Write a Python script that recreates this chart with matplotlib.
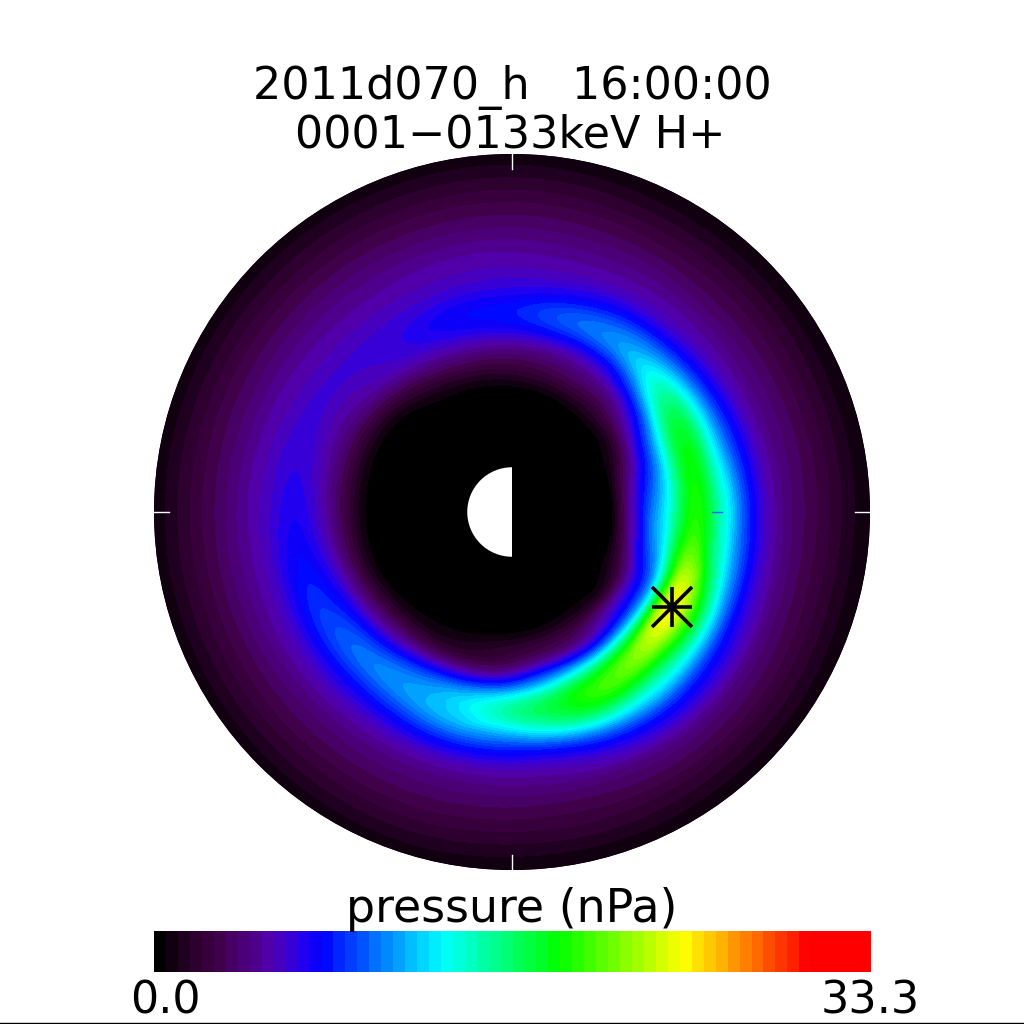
import numpy as np
import matplotlib
matplotlib.use("Agg")
import matplotlib.pyplot as plt
import matplotlib.tri as mtri
from matplotlib.colors import BoundaryNorm, LinearSegmentedColormap, ListedColormap
from matplotlib.patches import Circle, Wedge

# radial distance in Re
radii = [2.25, 2.7, 3.15, 3.6, 4.0, 4.5, 4.9, 5.35, 5.8, 6.25, 6.7, 7.15, 7.6, 8.0, 8.5]

# pressure (nPa) along rays, degrees counter clockwise from the right
p_000 = [0.5, 5.5, 10.5, 15.0, 19.0, 16.5, 12.5, 8.0, 5.3, 3.9, 3.0, 2.1, 1.2, 0.6, 0.3]
p_015 = [0.4, 4.5, 8.8, 13.8, 18.3, 16.0, 11.5, 7.5, 5.1, 3.9, 3.0, 2.1, 1.2, 0.6, 0.3]
p_030 = [0.2, 2.3, 6.5, 11.5, 16.5, 15.5, 11.0, 7.0, 5.0, 3.9, 3.0, 2.1, 1.2, 0.6, 0.3]
p_045 = [0.1, 1.2, 3.9, 7.2, 11.5, 13.0, 9.8, 6.5, 5.0, 3.9, 3.0, 2.1, 1.2, 0.6, 0.3]
p_060 = [0.0, 0.8, 3.0, 5.2, 8.0, 10.8, 9.0, 6.3, 5.0, 4.0, 3.0, 2.1, 1.2, 0.6, 0.3]
p_075 = [0.0, 0.4, 2.5, 4.5, 7.2, 9.6, 7.8, 5.9, 4.9, 4.0, 3.1, 2.2, 1.3, 0.6, 0.3]
p_090 = [0.0, 0.2, 2.0, 4.2, 6.6, 8.2, 7.0, 5.8, 5.0, 4.1, 3.2, 2.3, 1.4, 0.7, 0.3]
p_105 = [0.0, 0.0, 1.6, 4.0, 6.2, 7.7, 6.8, 5.7, 5.0, 4.1, 3.2, 2.3, 1.4, 0.7, 0.3]
p_120 = [0.0, 0.0, 1.2, 3.5, 5.6, 6.8, 6.4, 5.6, 4.9, 4.1, 3.2, 2.3, 1.4, 0.7, 0.3]
p_135 = [0.0, 0.0, 0.5, 2.5, 4.8, 6.0, 6.2, 5.6, 4.9, 4.1, 3.2, 2.3, 1.4, 0.7, 0.3]
p_150 = [0.0, 0.0, 0.2, 1.8, 4.0, 5.5, 6.2, 5.7, 5.0, 4.1, 3.2, 2.3, 1.4, 0.7, 0.3]
p_165 = [0.0, 0.0, 0.2, 1.8, 3.9, 5.8, 6.5, 6.0, 5.1, 4.1, 3.2, 2.3, 1.4, 0.7, 0.3]
p_180 = [0.0, 0.0, 0.2, 2.0, 4.2, 6.4, 7.1, 6.2, 5.2, 4.2, 3.2, 2.3, 1.4, 0.7, 0.3]
p_195 = [0.0, 0.0, 0.2, 2.2, 4.8, 7.3, 7.9, 6.5, 5.2, 4.2, 3.2, 2.3, 1.4, 0.7, 0.3]
p_210 = [0.0, 0.0, 0.4, 2.8, 5.8, 8.7, 8.9, 6.9, 5.3, 4.2, 3.2, 2.3, 1.4, 0.7, 0.3]
p_225 = [0.0, 0.0, 0.8, 3.5, 6.8, 10.2, 9.5, 7.1, 5.3, 4.1, 3.2, 2.3, 1.4, 0.7, 0.3]
p_240 = [0.0, 0.1, 1.0, 3.8, 8.2, 11.2, 10.2, 7.4, 5.3, 4.1, 3.2, 2.3, 1.4, 0.7, 0.3]
p_255 = [0.0, 0.2, 1.5, 4.2, 9.5, 12.8, 11.5, 8.0, 5.4, 4.1, 3.2, 2.3, 1.4, 0.7, 0.3]
p_270 = [0.0, 0.5, 2.2, 5.5, 11.5, 15.5, 12.5, 8.0, 5.4, 4.1, 3.1, 2.2, 1.3, 0.6, 0.3]
p_285 = [0.0, 0.8, 3.0, 8.0, 14.5, 18.0, 15.0, 9.0, 5.8, 4.2, 3.1, 2.2, 1.3, 0.6, 0.3]
p_300 = [0.2, 1.2, 4.0, 9.5, 17.5, 20.0, 16.0, 10.5, 6.7, 4.5, 3.3, 2.2, 1.3, 0.6, 0.3]
p_315 = [0.2, 1.5, 6.0, 12.0, 21.0, 20.5, 15.5, 10.5, 6.9, 4.6, 3.3, 2.2, 1.3, 0.6, 0.3]
p_330 = [0.3, 2.5, 7.0, 13.3, 23.5, 21.5, 15.5, 9.5, 6.3, 4.3, 3.2, 2.2, 1.3, 0.6, 0.3]
p_345 = [0.3, 4.5, 9.5, 15.0, 21.0, 18.0, 13.2, 8.5, 5.6, 4.0, 3.0, 2.1, 1.2, 0.6, 0.3]

rays = [p_000, p_015, p_030, p_045, p_060, p_075, p_090, p_105, p_120, p_135, p_150, p_165,
        p_180, p_195, p_210, p_225, p_240, p_255, p_270, p_285, p_300, p_315, p_330, p_345]
angles = [0, 15, 30, 45, 60, 75, 90, 105, 120, 135, 150, 165,
          180, 195, 210, 225, 240, 255, 270, 285, 300, 315, 330, 345]

star_x = 3.58
star_y = -2.12

p_max = 33.3
n_bands = 60

cbar_stops = [0.0, 0.03, 0.08, 0.12, 0.16, 0.20, 0.23, 0.40, 0.566, 0.743, 0.92, 1.0]
cbar_colors = [(0, 0, 0), (0.12, 0, 0.12), (0.25, 0, 0.28), (0.3, 0, 0.48), (0.32, 0, 0.7), (0.15, 0, 0.93),
               (0, 0, 1), (0, 1, 1), (0, 1, 0), (1, 1, 0), (1, 0, 0), (1, 0, 0)]


def make_cmap():
    smooth = LinearSegmentedColormap.from_list("ram", list(zip(cbar_stops, cbar_colors)))
    return ListedColormap(smooth(np.linspace(0, 1, n_bands)))


def draw_disk(ax, cmap, norm, levels):
    # seam of the grid goes at 165 deg where the field is flat
    a_seq = angles[11:] + [a + 360 for a in angles[:12]]
    p_seq = rays[11:] + rays[:12]
    aa, rr = np.meshgrid(np.radians(a_seq) * 5, radii, indexing="ij")
    tri = mtri.Triangulation(aa.ravel(), rr.ravel())
    refiner = mtri.UniformTriRefiner(tri)
    fine_tri, fine_p = refiner.refine_field(np.array(p_seq).ravel(), subdiv=4)
    fine_p = np.clip(fine_p, 0, None)

    # refined in (angle, r), drawn in x, y
    x = fine_tri.y * np.cos(fine_tri.x / 5)
    y = fine_tri.y * np.sin(fine_tri.x / 5)
    xy_tri = mtri.Triangulation(x, y, triangles=fine_tri.triangles)

    disk = Circle((0, 0), 8, facecolor="black", edgecolor="none", zorder=1)
    ax.add_patch(disk)
    cs = ax.tricontourf(xy_tri, fine_p, levels=levels, cmap=cmap, norm=norm, zorder=2, antialiased=False)
    cs.set_clip_path(disk)

    # earth, day side is the white half
    ax.add_patch(Wedge((0, 0), 1, 90, 270, facecolor="white", edgecolor="none", zorder=3))
    ax.plot(star_x, star_y, marker="+", markersize=29, markeredgewidth=2.6, color="black", zorder=5)
    ax.plot(star_x, star_y, marker="x", markersize=29, markeredgewidth=2.6, color="black", zorder=5)

    tick = 0.33
    ax.plot([0, 0], [8, 8 - tick], color="white", lw=1, zorder=4)
    ax.plot([0, 0], [-8, -8 + tick], color="white", lw=1, zorder=4)
    ax.plot([-8, -8 + tick], [0, 0], color="white", lw=1, zorder=4)
    ax.plot([8, 8 - tick], [0, 0], color="white", lw=1, zorder=4)
    ax.plot([4.7, 4.7 - tick / 1.5], [0, 0], color="#1060ff", lw=1, zorder=4)

    ax.set_xlim(-8, 8)
    ax.set_ylim(-8, 8)
    ax.set_aspect("equal")
    ax.axis("off")


def draw_colorbar(ax, cmap, norm, levels):
    ax.pcolormesh(levels, [0, 1], [levels[:-1]], cmap=cmap, norm=norm, antialiased=False)
    ax.axis("off")


def main():
    fig = plt.figure(figsize=(10.24, 10.24), dpi=100, facecolor="white")
    cmap = make_cmap()
    levels = np.linspace(0, p_max, n_bands + 1)
    norm = BoundaryNorm(levels, n_bands)

    ax = fig.add_axes([154 / 1024, 154 / 1024, 716 / 1024, 716 / 1024])
    draw_disk(ax, cmap, norm, levels)

    cax = fig.add_axes([154 / 1024, 52 / 1024, 717 / 1024, 41 / 1024])
    draw_colorbar(cax, cmap, norm, levels)

    fs = 32
    fig.text(512 / 1024, 1 - 99 / 1024, "2011d070_h   16:00:00", ha="center", va="baseline", fontsize=fs)
    fig.text(510 / 1024, 1 - 148 / 1024, "0001\u22120133keV H+", ha="center", va="baseline", fontsize=fs)
    fig.text(512 / 1024, 1 - 922 / 1024, "pressure (nPa)", ha="center", va="baseline", fontsize=33)
    fig.text(165 / 1024, 1 - 1014 / 1024, "0.0", ha="center", va="baseline", fontsize=fs)
    fig.text(870 / 1024, 1 - 1014 / 1024, "33.3", ha="center", va="baseline", fontsize=fs)

    # black line along the bottom edge of the image
    fig.add_artist(plt.Line2D([0, 1], [1.5 / 1024, 1.5 / 1024], color="black", lw=1))

    fig.savefig("out.png", dpi=100, facecolor="white")


if __name__ == "__main__":
    main()
